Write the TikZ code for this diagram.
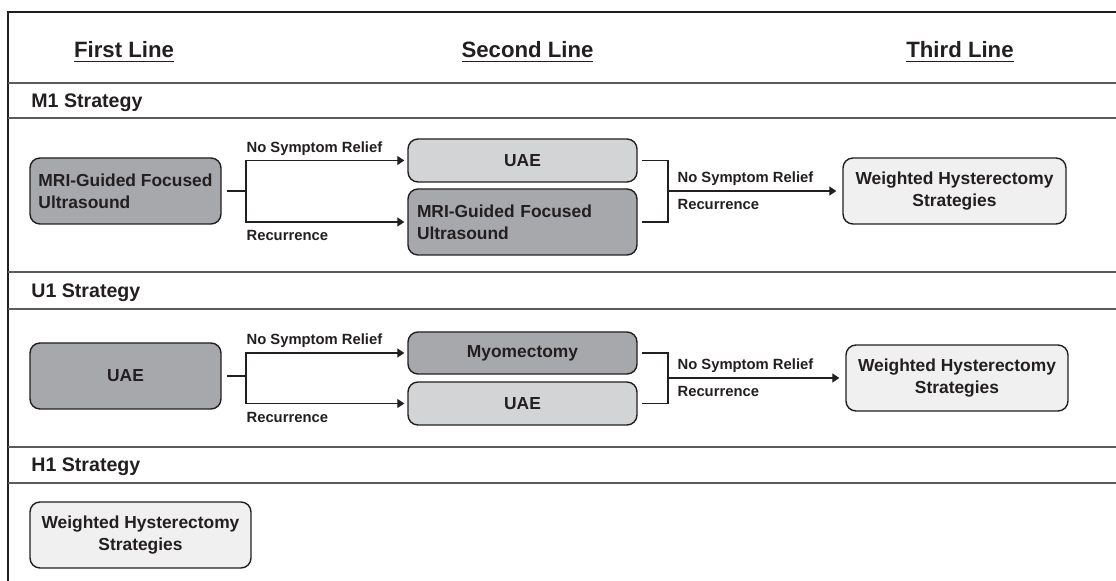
\documentclass[tikz,border=0pt]{standalone}
\usepackage{fontspec}
\setmainfont{Liberation Sans}
\usetikzlibrary{arrows.meta,shapes,calc}

\definecolor{ink}{HTML}{231F20}
\definecolor{rulegray}{HTML}{5A5B5D}
\definecolor{darkfill}{HTML}{A7A8AB}
\definecolor{palefill}{HTML}{D3D4D6}
\definecolor{faintfill}{HTML}{F0F0F1}

\begin{document}
\begin{tikzpicture}[x=0.5pt,y=-0.5pt,
  box/.style={rectangle, rounded corners=5pt, draw=ink, line width=0.7pt, text=ink,
    inner sep=0pt, align=center, font=\bfseries\fontsize{8.7}{11}\selectfont},
  darkbox/.style={box, fill=darkfill},
  palebox/.style={box, fill=palefill},
  faintbox/.style={box, fill=faintfill},
  head/.style={anchor=base, text=ink, inner sep=0pt, font=\bfseries\fontsize{11.1}{13}\selectfont},
  strat/.style={anchor=base west, text=ink, inner sep=0pt, font=\bfseries\fontsize{9.8}{12}\selectfont},
  lblabove/.style={anchor=base west, text=ink, inner sep=0pt, yshift=4pt, font=\bfseries\fontsize{7.4}{9}\selectfont},
  lblbelow/.style={anchor=north west, text=ink, inner sep=0pt, yshift=-4pt, font=\bfseries\fontsize{7.4}{9}\selectfont},
  link/.style={draw=ink, line width=0.6pt},
  arrow/.style={link, -{Triangle[length=3.5pt,width=4.5pt]}}]

  \useasboundingbox (0,0) rectangle (1116,581);

  % frame and rules
  \draw[draw=ink, line width=0.6pt] (8,581) -- (8,12) -- (1116,12);
  \foreach \r in {83,118,272,309,447,483}
    \draw[draw=rulegray, line width=1pt] (8,\r) -- (1116,\r);

  \path (124,58) node[head](hfirst){\underline{First Line}}
        (527.5,58) node[head](hsecond){\underline{Second Line}}
        (960,58) node[head](hthird){\underline{Third Line}}
        (31,108) node[strat](sm1){M1 Strategy}
        (31,298) node[strat](su1){U1 Strategy}
        (31,472) node[strat](sh1){H1 Strategy};

  % M1 strategy
  \path (125.5,191) node[darkbox, minimum width=95.5pt, minimum height=33pt, align=left](m1fus){MRI-Guided Focused\\Ultrasound}
        (522.5,160.5) node[palebox, minimum width=114.5pt, minimum height=21.5pt](m1uae){UAE}
        (522.5,222) node[darkbox, minimum width=114.5pt, minimum height=33pt, text width=105.5pt, align=left](m1mri){MRI-Guided Focused\\Ultrasound}
        (954.5,191) node[faintbox, minimum width=111.5pt, minimum height=33pt](m1hyst){Weighted Hysterectomy\\Strategies};
  \coordinate (m1j) at (246,191);
  \coordinate (m1k) at (668,191);

  \draw[link, shorten <=2.5pt] (m1fus.east) -- (m1j);
  \draw[arrow, shorten >=1.5pt] (m1j) |- node[pos=0.5, lblabove]{No Symptom Relief} (m1uae.west);
  \draw[arrow, shorten >=1.5pt] (m1j) |- node[pos=0.5, lblbelow]{Recurrence} (m1mri.west);
  \draw[link, shorten <=2pt] (m1uae.east) -| (m1k);
  \draw[link, shorten <=2pt] (m1mri.east) -| (m1k);
  \draw[arrow, shorten >=3pt] (m1k) -- node[pos=0, lblabove, xshift=4.5pt]{No Symptom Relief}
        node[pos=0, lblbelow, xshift=4.5pt]{Recurrence} (m1hyst);

  % U1 strategy
  \path (125.5,376) node[darkbox, minimum width=95.5pt, minimum height=33pt](u1uae){UAE}
        (522.5,353) node[darkbox, minimum width=114.5pt, minimum height=21pt](u1myo){Myomectomy}
        (522.5,403.5) node[palebox, minimum width=114.5pt, minimum height=21.5pt](u1rep){UAE}
        (957,378) node[faintbox, minimum width=111pt, minimum height=33pt](u1hyst){Weighted Hysterectomy\\Strategies};
  \coordinate (u1j) at (246,376);
  \coordinate (u1k) at (668,378);

  \draw[link, shorten <=2.5pt] (u1uae.east) -- (u1j);
  \draw[arrow, shorten >=1.5pt] (u1j) |- node[pos=0.5, lblabove]{No Symptom Relief} (u1myo.west);
  \draw[arrow, shorten >=1.5pt] (u1j) |- node[pos=0.5, lblbelow]{Recurrence} (u1rep.west);
  \draw[link, shorten <=2pt] (u1myo.east) -| (u1k);
  \draw[link, shorten <=2pt] (u1rep.east) -| (u1k);
  \draw[arrow, shorten >=3pt] (u1k) -- node[pos=0, lblabove, xshift=4.5pt]{No Symptom Relief}
        node[pos=0, lblbelow, xshift=4.5pt]{Recurrence} (u1hyst);

  % H1 strategy
  \path (140.5,535) node[faintbox, minimum width=110.5pt, minimum height=33pt](h1hyst){Weighted Hysterectomy\\Strategies};
\end{tikzpicture}
\end{document}
